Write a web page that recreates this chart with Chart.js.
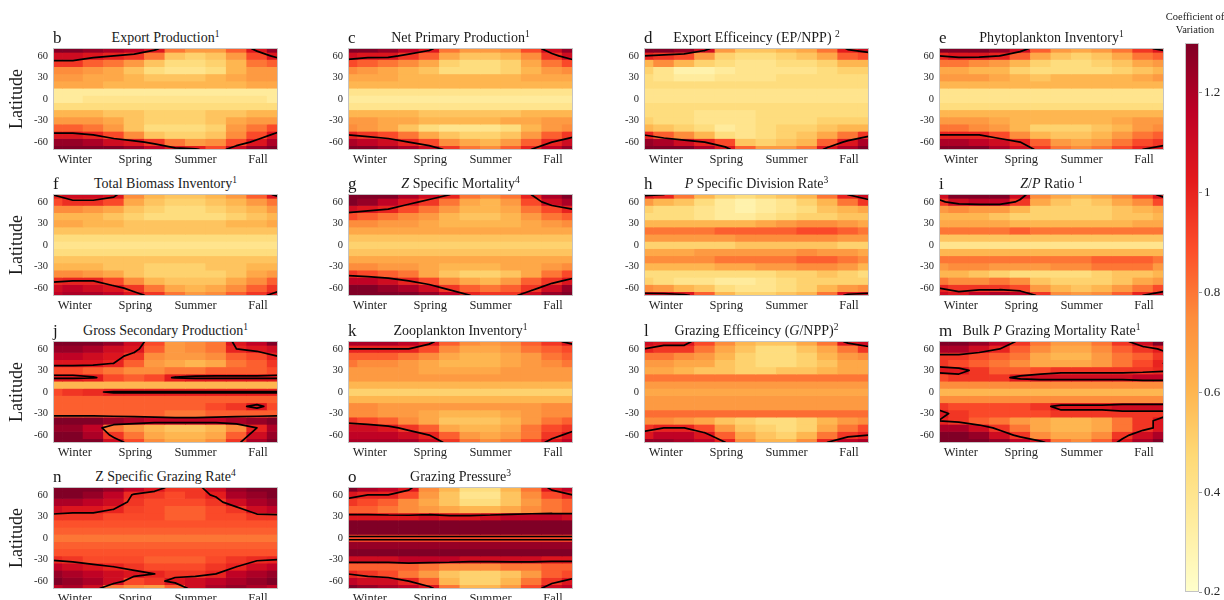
<!DOCTYPE html>
<html>
<head>
<meta charset="utf-8">
<script src="https://cdn.jsdelivr.net/npm/chart.js@4.4.1/dist/chart.umd.min.js"></script>
<style>
  body { margin: 0; background: #fff; }
  #page { position: relative; width: 1224px; height: 600px; overflow: hidden;
          font-family: 'Liberation Serif', 'DejaVu Serif', serif; color: #1a1a1a; }
  .box { position: absolute; }
  .ttl { position: absolute; text-align: center; font-size: 14px; line-height: 14px; white-space: nowrap; }
  .let { position: absolute; font-size: 17px; line-height: 17px; }
  .cbt { position: absolute; left: 1150px; top: 10px; width: 90px; text-align: center;
         font-size: 10.5px; line-height: 13px; white-space: nowrap; }
  sup { font-size: 0.68em; line-height: 0; vertical-align: 0.5em; }
</style>
</head>
<body>
<div id="page"></div>
<script>
// ---- data: coefficient of variation, rows = latitude (70 .. -70), columns = month ----
const latitudes = [70, 60, 50, 40, 30, 20, 10, 0, -10, -20, -30, -40, -50, -60, -70];
const seasonLabels = ['Winter', 'Spring', 'Summer', 'Fall'];
const seasonTicks = [1.6, 4.55, 7.5, 10.55];
const latTicks = [-60, -30, 0, 30, 60];
const cvTicks = [0.2, 0.4, 0.6, 0.8, 1, 1.2];
const cvRange = [0.2, 1.3];
const contourLevel = 1.0;
const colourStops = ['#ffffcc', '#ffeda0', '#fed976', '#feb24c', '#fd8d3c', '#fc4e2a', '#e31a1c', '#bd0026', '#800026'];

const exportProd = [
  [1.3, 1.3, 1.25, 1.2, 1.15, 1.05, 0.8, 0.7, 0.7, 0.85, 1.05, 1.25],
  [1.1, 1.1, 1.05, 1.0, 0.95, 0.8, 0.55, 0.5, 0.55, 0.7, 0.9, 1.05],
  [0.95, 0.95, 0.85, 0.8, 0.7, 0.55, 0.45, 0.45, 0.5, 0.6, 0.8, 0.85],
  [0.75, 0.75, 0.7, 0.65, 0.55, 0.45, 0.4, 0.4, 0.45, 0.6, 0.7, 0.7],
  [0.7, 0.7, 0.65, 0.65, 0.6, 0.55, 0.55, 0.55, 0.6, 0.65, 0.7, 0.7],
  [0.65, 0.65, 0.65, 0.6, 0.6, 0.6, 0.6, 0.6, 0.6, 0.6, 0.65, 0.65],
  [0.35, 0.35, 0.35, 0.35, 0.35, 0.35, 0.35, 0.35, 0.35, 0.35, 0.35, 0.35],
  [0.35, 0.35, 0.4, 0.4, 0.4, 0.4, 0.4, 0.4, 0.4, 0.4, 0.4, 0.35],
  [0.45, 0.45, 0.45, 0.45, 0.45, 0.45, 0.45, 0.45, 0.45, 0.45, 0.45, 0.45],
  [0.6, 0.6, 0.6, 0.55, 0.55, 0.5, 0.5, 0.5, 0.55, 0.55, 0.6, 0.6],
  [0.7, 0.7, 0.7, 0.65, 0.55, 0.5, 0.5, 0.5, 0.55, 0.65, 0.7, 0.7],
  [0.85, 0.85, 0.8, 0.7, 0.55, 0.45, 0.45, 0.45, 0.5, 0.7, 0.8, 0.9],
  [1.05, 1.05, 1.0, 0.9, 0.75, 0.55, 0.5, 0.5, 0.55, 0.75, 0.9, 1.05],
  [1.25, 1.25, 1.2, 1.1, 1.05, 0.95, 0.8, 0.7, 0.75, 0.9, 1.05, 1.2],
  [1.3, 1.3, 1.3, 1.3, 1.25, 1.15, 1.05, 1.02, 0.9, 1.1, 1.25, 1.3]
];
const netPrimary = [
  [1.3, 1.3, 1.25, 1.15, 1.05, 0.8, 0.7, 0.7, 0.75, 0.9, 1.1, 1.25],
  [1.1, 1.05, 1.05, 0.95, 0.85, 0.65, 0.55, 0.55, 0.6, 0.75, 0.95, 1.1],
  [0.9, 0.85, 0.8, 0.75, 0.65, 0.5, 0.45, 0.45, 0.5, 0.65, 0.8, 0.9],
  [0.75, 0.7, 0.65, 0.6, 0.55, 0.45, 0.45, 0.45, 0.5, 0.6, 0.7, 0.75],
  [0.65, 0.65, 0.65, 0.6, 0.6, 0.6, 0.6, 0.6, 0.6, 0.65, 0.65, 0.65],
  [0.6, 0.6, 0.6, 0.6, 0.6, 0.6, 0.6, 0.6, 0.6, 0.6, 0.6, 0.6],
  [0.4, 0.4, 0.4, 0.4, 0.4, 0.4, 0.4, 0.4, 0.4, 0.4, 0.4, 0.4],
  [0.35, 0.35, 0.35, 0.35, 0.35, 0.35, 0.35, 0.35, 0.35, 0.35, 0.35, 0.35],
  [0.4, 0.4, 0.4, 0.4, 0.4, 0.4, 0.4, 0.4, 0.4, 0.4, 0.4, 0.4],
  [0.6, 0.6, 0.6, 0.6, 0.55, 0.55, 0.55, 0.55, 0.55, 0.6, 0.6, 0.6],
  [0.7, 0.7, 0.65, 0.65, 0.6, 0.6, 0.6, 0.6, 0.65, 0.65, 0.7, 0.7],
  [0.75, 0.7, 0.65, 0.55, 0.45, 0.4, 0.4, 0.4, 0.45, 0.6, 0.7, 0.75],
  [1.0, 0.95, 0.9, 0.8, 0.65, 0.55, 0.5, 0.5, 0.55, 0.7, 0.85, 0.95],
  [1.2, 1.15, 1.1, 1.0, 0.9, 0.75, 0.65, 0.6, 0.7, 0.85, 1.0, 1.1],
  [1.3, 1.3, 1.25, 1.2, 1.1, 0.95, 0.8, 0.75, 0.85, 1.0, 1.15, 1.25]
];
const exportEff = [
  [1.3, 1.3, 1.25, 1.1, 0.7, 0.55, 0.55, 0.6, 0.65, 0.8, 1.02, 1.1],
  [1.0, 0.95, 0.9, 0.7, 0.5, 0.45, 0.45, 0.5, 0.55, 0.65, 0.85, 0.9],
  [0.6, 0.75, 0.6, 0.5, 0.45, 0.4, 0.4, 0.45, 0.45, 0.5, 0.6, 0.6],
  [0.5, 0.4, 0.3, 0.3, 0.35, 0.4, 0.4, 0.4, 0.4, 0.45, 0.5, 0.5],
  [0.45, 0.4, 0.35, 0.35, 0.4, 0.4, 0.4, 0.45, 0.45, 0.45, 0.45, 0.45],
  [0.45, 0.45, 0.45, 0.45, 0.45, 0.45, 0.45, 0.45, 0.45, 0.45, 0.45, 0.45],
  [0.4, 0.4, 0.4, 0.4, 0.4, 0.4, 0.4, 0.4, 0.4, 0.4, 0.4, 0.4],
  [0.4, 0.4, 0.4, 0.4, 0.4, 0.4, 0.4, 0.4, 0.4, 0.4, 0.4, 0.4],
  [0.45, 0.45, 0.45, 0.45, 0.45, 0.45, 0.45, 0.45, 0.45, 0.45, 0.45, 0.45],
  [0.45, 0.45, 0.45, 0.4, 0.4, 0.4, 0.45, 0.45, 0.45, 0.45, 0.45, 0.45],
  [0.5, 0.45, 0.45, 0.4, 0.4, 0.4, 0.45, 0.45, 0.45, 0.5, 0.5, 0.5],
  [0.6, 0.55, 0.5, 0.45, 0.35, 0.4, 0.45, 0.5, 0.5, 0.55, 0.6, 0.6],
  [1.0, 0.85, 0.75, 0.6, 0.45, 0.4, 0.45, 0.5, 0.55, 0.65, 0.8, 0.95],
  [1.25, 1.2, 1.1, 1.0, 0.9, 0.55, 0.5, 0.55, 0.6, 0.85, 1.05, 1.2],
  [1.3, 1.3, 1.3, 1.2, 1.05, 0.85, 0.7, 0.7, 0.8, 1.05, 1.2, 1.3]
];
const phytoInv = [
  [1.3, 1.3, 1.3, 1.25, 1.1, 0.85, 0.7, 0.65, 0.7, 0.8, 0.95, 1.05],
  [1.0, 1.05, 1.05, 1.0, 0.85, 0.65, 0.55, 0.5, 0.55, 0.65, 0.8, 0.85],
  [0.8, 0.8, 0.75, 0.7, 0.6, 0.5, 0.45, 0.45, 0.5, 0.55, 0.65, 0.7],
  [0.65, 0.65, 0.6, 0.6, 0.5, 0.45, 0.45, 0.45, 0.45, 0.5, 0.55, 0.6],
  [0.7, 0.7, 0.7, 0.65, 0.6, 0.55, 0.6, 0.6, 0.6, 0.6, 0.65, 0.7],
  [0.6, 0.6, 0.6, 0.6, 0.6, 0.6, 0.6, 0.6, 0.6, 0.6, 0.6, 0.6],
  [0.4, 0.4, 0.4, 0.4, 0.4, 0.4, 0.4, 0.4, 0.4, 0.4, 0.4, 0.4],
  [0.4, 0.4, 0.4, 0.4, 0.4, 0.4, 0.4, 0.4, 0.4, 0.4, 0.4, 0.4],
  [0.45, 0.45, 0.45, 0.45, 0.45, 0.45, 0.45, 0.45, 0.45, 0.45, 0.45, 0.45],
  [0.6, 0.6, 0.6, 0.6, 0.6, 0.6, 0.6, 0.6, 0.6, 0.6, 0.6, 0.6],
  [0.7, 0.7, 0.7, 0.65, 0.6, 0.6, 0.6, 0.6, 0.6, 0.65, 0.7, 0.7],
  [0.8, 0.8, 0.75, 0.7, 0.6, 0.5, 0.5, 0.5, 0.55, 0.6, 0.7, 0.75],
  [1.0, 1.0, 1.0, 0.9, 0.75, 0.6, 0.55, 0.55, 0.6, 0.7, 0.8, 0.85],
  [1.2, 1.2, 1.15, 1.1, 1.0, 0.85, 0.7, 0.65, 0.7, 0.8, 0.9, 0.95],
  [1.3, 1.3, 1.3, 1.2, 1.1, 0.95, 0.8, 0.75, 0.8, 0.9, 1.0, 1.05]
];
const biomassInv = [
  [1.0, 1.1, 1.1, 1.05, 0.75, 0.6, 0.55, 0.55, 0.6, 0.7, 0.85, 1.05],
  [0.9, 0.97, 0.97, 0.9, 0.65, 0.55, 0.5, 0.5, 0.55, 0.6, 0.7, 0.8],
  [0.75, 0.75, 0.7, 0.65, 0.55, 0.5, 0.45, 0.45, 0.5, 0.55, 0.6, 0.7],
  [0.6, 0.6, 0.6, 0.55, 0.5, 0.45, 0.45, 0.45, 0.45, 0.5, 0.55, 0.6],
  [0.65, 0.65, 0.6, 0.6, 0.55, 0.55, 0.55, 0.55, 0.55, 0.6, 0.6, 0.65],
  [0.55, 0.55, 0.55, 0.55, 0.55, 0.55, 0.55, 0.55, 0.55, 0.55, 0.55, 0.55],
  [0.45, 0.45, 0.45, 0.45, 0.45, 0.45, 0.45, 0.45, 0.45, 0.45, 0.45, 0.45],
  [0.4, 0.4, 0.4, 0.4, 0.4, 0.4, 0.4, 0.4, 0.4, 0.4, 0.4, 0.4],
  [0.45, 0.45, 0.45, 0.45, 0.45, 0.45, 0.45, 0.45, 0.45, 0.45, 0.45, 0.45],
  [0.55, 0.55, 0.55, 0.55, 0.55, 0.55, 0.55, 0.55, 0.55, 0.55, 0.55, 0.55],
  [0.6, 0.6, 0.6, 0.55, 0.55, 0.5, 0.5, 0.5, 0.55, 0.55, 0.6, 0.6],
  [0.75, 0.75, 0.7, 0.65, 0.55, 0.5, 0.5, 0.5, 0.5, 0.55, 0.65, 0.7],
  [0.98, 1.0, 1.0, 0.9, 0.75, 0.6, 0.55, 0.55, 0.55, 0.65, 0.75, 0.85],
  [1.1, 1.15, 1.1, 1.05, 0.95, 0.8, 0.65, 0.6, 0.65, 0.75, 0.85, 0.95],
  [1.15, 1.2, 1.2, 1.15, 1.05, 0.95, 0.8, 0.7, 0.75, 0.85, 0.95, 1.05]
];
const zMortality = [
  [1.3, 1.3, 1.3, 1.2, 1.1, 1.0, 0.8, 0.75, 0.8, 1.0, 1.2, 1.3],
  [1.3, 1.25, 1.15, 1.05, 0.95, 0.8, 0.65, 0.6, 0.7, 0.9, 1.1, 1.2],
  [1.1, 1.05, 1.0, 0.9, 0.8, 0.7, 0.6, 0.6, 0.65, 0.8, 0.9, 1.0],
  [0.9, 0.85, 0.8, 0.75, 0.7, 0.6, 0.55, 0.55, 0.6, 0.7, 0.8, 0.85],
  [0.75, 0.75, 0.7, 0.7, 0.65, 0.6, 0.6, 0.6, 0.6, 0.65, 0.7, 0.75],
  [0.65, 0.65, 0.65, 0.65, 0.65, 0.65, 0.65, 0.65, 0.65, 0.65, 0.65, 0.65],
  [0.55, 0.55, 0.55, 0.55, 0.55, 0.55, 0.55, 0.55, 0.55, 0.55, 0.55, 0.55],
  [0.5, 0.5, 0.5, 0.5, 0.5, 0.5, 0.5, 0.5, 0.5, 0.5, 0.5, 0.5],
  [0.55, 0.55, 0.55, 0.55, 0.55, 0.55, 0.55, 0.55, 0.55, 0.55, 0.55, 0.55],
  [0.65, 0.65, 0.65, 0.65, 0.65, 0.65, 0.65, 0.65, 0.65, 0.65, 0.65, 0.65],
  [0.75, 0.75, 0.7, 0.7, 0.65, 0.6, 0.6, 0.6, 0.65, 0.65, 0.7, 0.75],
  [0.95, 0.9, 0.85, 0.8, 0.65, 0.55, 0.5, 0.5, 0.55, 0.65, 0.8, 0.9],
  [1.15, 1.15, 1.1, 1.0, 0.9, 0.75, 0.65, 0.6, 0.7, 0.85, 0.95, 1.05],
  [1.3, 1.3, 1.25, 1.2, 1.1, 0.95, 0.85, 0.8, 0.85, 0.95, 1.1, 1.25],
  [1.3, 1.3, 1.3, 1.3, 1.25, 1.15, 1.0, 0.95, 0.95, 1.1, 1.25, 1.3]
];
const pDivision = [
  [1.05, 1.0, 0.8, 0.6, 0.5, 0.45, 0.5, 0.55, 0.6, 0.8, 1.0, 1.1],
  [0.7, 0.6, 0.55, 0.45, 0.35, 0.3, 0.35, 0.4, 0.5, 0.6, 0.8, 0.95],
  [0.5, 0.45, 0.45, 0.4, 0.35, 0.3, 0.35, 0.4, 0.45, 0.55, 0.6, 0.65],
  [0.45, 0.45, 0.45, 0.4, 0.35, 0.35, 0.4, 0.45, 0.5, 0.5, 0.55, 0.55],
  [0.6, 0.6, 0.6, 0.6, 0.6, 0.6, 0.65, 0.7, 0.75, 0.75, 0.7, 0.65],
  [0.8, 0.8, 0.8, 0.8, 0.85, 0.85, 0.85, 0.85, 0.9, 0.9, 0.85, 0.8],
  [0.7, 0.7, 0.7, 0.7, 0.7, 0.75, 0.75, 0.75, 0.75, 0.75, 0.7, 0.7],
  [0.5, 0.5, 0.5, 0.5, 0.5, 0.55, 0.55, 0.55, 0.55, 0.55, 0.5, 0.5],
  [0.65, 0.65, 0.65, 0.7, 0.7, 0.7, 0.7, 0.7, 0.75, 0.7, 0.7, 0.65],
  [0.75, 0.75, 0.75, 0.75, 0.8, 0.8, 0.8, 0.8, 0.85, 0.85, 0.8, 0.75],
  [0.6, 0.6, 0.6, 0.6, 0.65, 0.65, 0.7, 0.7, 0.75, 0.75, 0.7, 0.6],
  [0.45, 0.45, 0.45, 0.45, 0.45, 0.45, 0.45, 0.5, 0.5, 0.55, 0.5, 0.45],
  [0.5, 0.45, 0.4, 0.4, 0.35, 0.35, 0.4, 0.45, 0.5, 0.5, 0.5, 0.5],
  [0.75, 0.7, 0.6, 0.55, 0.45, 0.4, 0.4, 0.45, 0.5, 0.6, 0.7, 0.75],
  [1.1, 1.1, 1.05, 0.85, 0.6, 0.5, 0.5, 0.55, 0.6, 0.8, 1.05, 1.1]
];
const zpRatio = [
  [1.1, 1.3, 1.3, 1.3, 1.1, 0.75, 0.65, 0.6, 0.65, 0.75, 0.9, 1.05],
  [0.95, 1.1, 1.15, 1.15, 0.95, 0.65, 0.55, 0.5, 0.55, 0.65, 0.75, 0.9],
  [0.7, 0.75, 0.7, 0.7, 0.6, 0.5, 0.5, 0.5, 0.5, 0.55, 0.6, 0.65],
  [0.6, 0.6, 0.6, 0.55, 0.5, 0.5, 0.5, 0.5, 0.5, 0.55, 0.55, 0.6],
  [0.65, 0.65, 0.65, 0.65, 0.6, 0.6, 0.6, 0.6, 0.6, 0.6, 0.65, 0.65],
  [0.8, 0.8, 0.8, 0.8, 0.85, 0.8, 0.8, 0.8, 0.8, 0.8, 0.8, 0.8],
  [0.55, 0.55, 0.55, 0.55, 0.55, 0.55, 0.55, 0.55, 0.55, 0.55, 0.55, 0.55],
  [0.4, 0.4, 0.4, 0.4, 0.4, 0.4, 0.4, 0.4, 0.4, 0.4, 0.4, 0.4],
  [0.6, 0.6, 0.6, 0.6, 0.6, 0.6, 0.6, 0.6, 0.6, 0.6, 0.6, 0.6],
  [0.8, 0.8, 0.8, 0.8, 0.8, 0.8, 0.8, 0.8, 0.85, 0.85, 0.85, 0.8],
  [0.7, 0.75, 0.75, 0.7, 0.7, 0.7, 0.75, 0.75, 0.8, 0.8, 0.8, 0.7],
  [0.6, 0.6, 0.55, 0.5, 0.45, 0.45, 0.45, 0.45, 0.5, 0.55, 0.55, 0.6],
  [0.8, 0.75, 0.75, 0.8, 0.75, 0.55, 0.5, 0.5, 0.5, 0.55, 0.65, 0.7],
  [1.0, 0.95, 0.95, 0.95, 0.9, 0.7, 0.6, 0.55, 0.6, 0.7, 0.8, 0.9],
  [1.1, 1.05, 1.15, 1.2, 1.15, 0.95, 0.75, 0.7, 0.75, 0.85, 1.0, 1.1]
];
const grossSecondary = [
  [1.3, 1.3, 1.3, 1.25, 1.1, 0.9, 0.7, 0.75, 0.8, 1.05, 1.15, 1.3],
  [1.25, 1.25, 1.2, 1.1, 1.05, 0.85, 0.7, 0.75, 0.8, 1.0, 1.05, 1.1],
  [1.15, 1.15, 1.1, 1.05, 0.95, 0.75, 0.7, 0.7, 0.75, 0.85, 0.9, 1.0],
  [1.05, 1.05, 1.05, 1.0, 0.85, 0.7, 0.65, 0.6, 0.65, 0.8, 0.85, 0.95],
  [0.9, 0.9, 0.85, 0.8, 0.75, 0.75, 0.8, 0.8, 0.85, 0.85, 0.85, 0.9],
  [1.05, 1.05, 1.02, 0.9, 0.85, 0.9, 1.02, 1.05, 1.05, 1.05, 1.05, 1.05],
  [0.6, 0.6, 0.6, 0.6, 0.6, 0.6, 0.6, 0.6, 0.6, 0.6, 0.6, 0.6],
  [0.9, 0.95, 0.98, 1.02, 1.02, 1.02, 1.02, 1.02, 1.02, 1.02, 1.02, 1.02],
  [0.85, 0.85, 0.85, 0.85, 0.85, 0.85, 0.85, 0.85, 0.85, 0.85, 0.85, 0.85],
  [0.85, 0.85, 0.85, 0.85, 0.85, 0.85, 0.85, 0.85, 0.9, 0.95, 1.05, 0.9],
  [0.85, 0.85, 0.85, 0.85, 0.85, 0.85, 0.8, 0.8, 0.85, 0.85, 0.85, 0.85],
  [1.3, 1.3, 1.3, 1.25, 1.2, 1.15, 1.15, 1.15, 1.15, 1.2, 1.25, 1.3],
  [1.25, 1.25, 1.15, 0.8, 0.7, 0.6, 0.55, 0.55, 0.6, 0.75, 1.0, 1.2],
  [1.3, 1.3, 1.2, 0.95, 0.8, 0.65, 0.6, 0.6, 0.65, 0.85, 1.1, 1.25],
  [1.3, 1.3, 1.3, 1.1, 0.9, 0.75, 0.65, 0.65, 0.75, 0.95, 1.2, 1.3]
];
const zooInv = [
  [1.2, 1.2, 1.2, 1.15, 1.05, 0.85, 0.75, 0.7, 0.75, 0.85, 0.95, 1.05],
  [1.0, 1.0, 1.0, 1.0, 0.9, 0.75, 0.65, 0.65, 0.7, 0.8, 0.85, 0.9],
  [0.85, 0.85, 0.85, 0.8, 0.75, 0.65, 0.6, 0.6, 0.65, 0.7, 0.8, 0.85],
  [0.8, 0.75, 0.75, 0.7, 0.65, 0.6, 0.6, 0.6, 0.65, 0.7, 0.75, 0.8],
  [0.7, 0.7, 0.7, 0.7, 0.65, 0.65, 0.65, 0.65, 0.7, 0.7, 0.7, 0.7],
  [0.7, 0.7, 0.7, 0.7, 0.7, 0.7, 0.7, 0.7, 0.7, 0.7, 0.7, 0.7],
  [0.6, 0.6, 0.6, 0.6, 0.6, 0.6, 0.6, 0.6, 0.6, 0.6, 0.6, 0.6],
  [0.5, 0.5, 0.5, 0.5, 0.5, 0.5, 0.5, 0.5, 0.5, 0.5, 0.5, 0.5],
  [0.6, 0.6, 0.6, 0.6, 0.6, 0.6, 0.6, 0.6, 0.6, 0.6, 0.6, 0.6],
  [0.75, 0.75, 0.7, 0.7, 0.7, 0.7, 0.7, 0.7, 0.7, 0.7, 0.75, 0.75],
  [0.75, 0.75, 0.7, 0.7, 0.65, 0.6, 0.6, 0.6, 0.65, 0.7, 0.75, 0.75],
  [0.95, 0.9, 0.85, 0.75, 0.65, 0.55, 0.55, 0.55, 0.6, 0.7, 0.8, 0.85],
  [1.1, 1.1, 1.05, 0.95, 0.85, 0.65, 0.6, 0.6, 0.65, 0.8, 0.9, 0.95],
  [1.15, 1.15, 1.15, 1.1, 1.0, 0.85, 0.7, 0.65, 0.7, 0.8, 0.95, 1.05],
  [1.2, 1.2, 1.2, 1.2, 1.1, 0.95, 0.8, 0.75, 0.8, 0.9, 1.05, 1.15]
];
const grazingEff = [
  [1.1, 1.05, 1.05, 0.9, 0.75, 0.6, 0.55, 0.55, 0.65, 0.8, 1.05, 1.1],
  [1.0, 0.95, 0.95, 0.8, 0.65, 0.55, 0.45, 0.45, 0.55, 0.65, 0.8, 0.95],
  [0.8, 0.8, 0.75, 0.7, 0.6, 0.5, 0.45, 0.45, 0.5, 0.6, 0.7, 0.75],
  [0.7, 0.7, 0.65, 0.65, 0.55, 0.5, 0.45, 0.45, 0.5, 0.55, 0.65, 0.65],
  [0.65, 0.65, 0.6, 0.55, 0.55, 0.5, 0.5, 0.55, 0.55, 0.6, 0.65, 0.65],
  [0.8, 0.8, 0.8, 0.8, 0.8, 0.8, 0.8, 0.8, 0.8, 0.8, 0.8, 0.8],
  [0.7, 0.7, 0.7, 0.7, 0.7, 0.7, 0.7, 0.7, 0.7, 0.7, 0.7, 0.7],
  [0.65, 0.65, 0.65, 0.65, 0.65, 0.65, 0.65, 0.65, 0.65, 0.65, 0.65, 0.65],
  [0.7, 0.7, 0.7, 0.7, 0.7, 0.7, 0.7, 0.7, 0.7, 0.7, 0.7, 0.7],
  [0.7, 0.7, 0.7, 0.7, 0.7, 0.7, 0.7, 0.7, 0.7, 0.7, 0.7, 0.7],
  [0.82, 0.82, 0.82, 0.82, 0.82, 0.82, 0.82, 0.82, 0.82, 0.82, 0.82, 0.82],
  [0.75, 0.75, 0.7, 0.65, 0.55, 0.5, 0.45, 0.45, 0.5, 0.6, 0.7, 0.75],
  [0.95, 1.0, 1.0, 0.9, 0.7, 0.55, 0.5, 0.45, 0.5, 0.65, 0.8, 0.9],
  [1.05, 1.15, 1.15, 1.05, 0.85, 0.65, 0.55, 0.5, 0.6, 0.8, 0.95, 1.0],
  [1.25, 1.25, 1.2, 1.15, 1.0, 0.75, 0.6, 0.6, 0.75, 1.0, 1.15, 1.2]
];
const bulkGrazing = [
  [1.3, 1.3, 1.25, 1.15, 0.95, 0.8, 0.7, 0.7, 0.8, 0.95, 1.1, 1.3],
  [1.2, 1.2, 1.1, 1.0, 0.85, 0.75, 0.65, 0.65, 0.75, 0.85, 0.95, 1.02],
  [0.95, 0.95, 0.9, 0.85, 0.8, 0.65, 0.6, 0.6, 0.7, 0.8, 0.85, 0.95],
  [0.95, 0.9, 0.85, 0.8, 0.75, 0.65, 0.65, 0.65, 0.7, 0.8, 0.9, 1.0],
  [1.05, 1.05, 0.95, 0.85, 0.85, 0.9, 0.95, 0.95, 0.95, 0.95, 0.95, 0.98],
  [0.9, 0.95, 0.95, 0.95, 1.05, 1.1, 1.1, 1.1, 1.1, 1.1, 1.15, 1.15],
  [0.75, 0.75, 0.75, 0.75, 0.75, 0.75, 0.75, 0.75, 0.75, 0.75, 0.75, 0.75],
  [0.6, 0.6, 0.6, 0.6, 0.6, 0.6, 0.6, 0.6, 0.6, 0.6, 0.6, 0.6],
  [0.75, 0.75, 0.75, 0.75, 0.75, 0.75, 0.75, 0.75, 0.75, 0.75, 0.75, 0.75],
  [0.95, 0.9, 0.9, 0.9, 0.9, 0.95, 1.05, 1.05, 1.05, 1.1, 1.1, 1.1],
  [1.05, 0.95, 0.9, 0.9, 0.9, 0.9, 0.95, 0.95, 0.95, 0.95, 0.95, 0.95],
  [1.0, 0.95, 0.85, 0.8, 0.7, 0.65, 0.6, 0.6, 0.65, 0.8, 0.95, 1.05],
  [1.2, 1.2, 1.1, 0.95, 0.8, 0.65, 0.6, 0.6, 0.65, 0.8, 0.95, 1.05],
  [1.3, 1.3, 1.25, 1.1, 0.95, 0.75, 0.65, 0.65, 0.75, 0.95, 1.1, 1.2],
  [1.3, 1.3, 1.3, 1.25, 1.15, 1.05, 0.8, 0.75, 0.85, 1.05, 1.2, 1.3]
];
const zGrazingRate = [
  [1.3, 1.3, 1.3, 1.25, 1.15, 1.05, 0.95, 0.95, 1.1, 1.25, 1.3, 1.3],
  [1.3, 1.3, 1.25, 1.15, 0.98, 0.95, 0.9, 0.95, 1.02, 1.2, 1.25, 1.3],
  [1.2, 1.2, 1.15, 1.1, 0.95, 0.9, 0.9, 0.9, 0.95, 1.1, 1.2, 1.25],
  [1.1, 1.05, 1.05, 1.0, 0.92, 0.9, 0.85, 0.85, 0.9, 0.95, 1.1, 1.15],
  [0.95, 0.95, 0.95, 0.9, 0.9, 0.9, 0.85, 0.85, 0.9, 0.9, 0.95, 0.95],
  [0.88, 0.88, 0.88, 0.88, 0.88, 0.88, 0.88, 0.88, 0.88, 0.88, 0.88, 0.88],
  [0.85, 0.85, 0.85, 0.85, 0.85, 0.85, 0.85, 0.85, 0.85, 0.85, 0.85, 0.85],
  [0.8, 0.8, 0.8, 0.8, 0.8, 0.8, 0.8, 0.8, 0.8, 0.8, 0.8, 0.8],
  [0.85, 0.85, 0.85, 0.85, 0.85, 0.85, 0.85, 0.85, 0.85, 0.85, 0.85, 0.85],
  [0.88, 0.88, 0.88, 0.88, 0.88, 0.88, 0.88, 0.88, 0.88, 0.88, 0.88, 0.88],
  [0.98, 0.95, 0.9, 0.9, 0.9, 0.85, 0.85, 0.85, 0.9, 0.95, 0.98, 1.0],
  [1.15, 1.1, 1.05, 1.0, 0.95, 0.9, 0.9, 0.9, 0.95, 1.0, 1.1, 1.15],
  [1.25, 1.2, 1.15, 1.1, 1.05, 1.0, 0.95, 0.95, 1.0, 1.15, 1.2, 1.25],
  [1.3, 1.25, 1.2, 1.1, 0.9, 0.95, 1.05, 1.1, 1.15, 1.2, 1.25, 1.3],
  [1.15, 1.2, 1.1, 0.8, 0.75, 0.7, 0.85, 1.1, 1.2, 1.25, 1.2, 1.15]
];
const grazingPressure = [
  [1.3, 1.2, 1.15, 1.05, 0.75, 0.6, 0.45, 0.45, 0.6, 0.8, 1.05, 1.15],
  [1.05, 1.0, 1.0, 0.9, 0.7, 0.55, 0.4, 0.4, 0.55, 0.75, 0.9, 1.0],
  [0.95, 0.9, 0.85, 0.75, 0.65, 0.55, 0.45, 0.45, 0.55, 0.7, 0.8, 0.85],
  [0.85, 0.85, 0.8, 0.75, 0.7, 0.65, 0.6, 0.6, 0.65, 0.75, 0.8, 0.85],
  [1.05, 1.05, 1.05, 1.05, 1.1, 1.05, 1.05, 1.1, 1.15, 1.15, 1.15, 1.1],
  [1.3, 1.3, 1.3, 1.3, 1.3, 1.3, 1.3, 1.3, 1.3, 1.3, 1.3, 1.3],
  [1.3, 1.3, 1.3, 1.3, 1.3, 1.3, 1.3, 1.3, 1.3, 1.3, 1.3, 1.3],
  [0.92, 0.92, 0.92, 0.92, 0.92, 0.92, 0.92, 0.92, 0.92, 0.92, 0.92, 0.92],
  [1.25, 1.25, 1.25, 1.25, 1.25, 1.25, 1.25, 1.25, 1.25, 1.25, 1.25, 1.25],
  [1.3, 1.3, 1.3, 1.3, 1.3, 1.3, 1.3, 1.3, 1.3, 1.3, 1.3, 1.3],
  [1.1, 1.1, 1.1, 1.15, 1.15, 1.15, 1.1, 1.1, 1.1, 1.1, 1.05, 1.05],
  [0.85, 0.85, 0.85, 0.85, 0.8, 0.75, 0.75, 0.75, 0.8, 0.8, 0.85, 0.85],
  [1.0, 0.95, 0.9, 0.8, 0.7, 0.55, 0.5, 0.5, 0.55, 0.7, 0.85, 0.9],
  [1.15, 1.1, 1.1, 1.0, 0.85, 0.6, 0.5, 0.5, 0.6, 0.8, 0.95, 1.05],
  [1.3, 1.25, 1.2, 1.15, 1.05, 0.8, 0.6, 0.6, 0.7, 0.9, 1.1, 1.15]
];

const panels = [
  { letter: 'b', title: 'Export Production<sup>1</sup>', grid: exportProd },
  { letter: 'c', title: 'Net Primary Production<sup>1</sup>', grid: netPrimary },
  { letter: 'd', title: 'Export Efficeincy (EP/NPP) <sup>2</sup>', grid: exportEff },
  { letter: 'e', title: 'Phytoplankton Inventory<sup>1</sup>', grid: phytoInv },
  { letter: 'f', title: 'Total Biomass Inventory<sup>1</sup>', grid: biomassInv },
  { letter: 'g', title: '<i>Z</i> Specific Mortality<sup>4</sup>', grid: zMortality },
  { letter: 'h', title: '<i>P</i> Specific Division Rate<sup>3</sup>', grid: pDivision },
  { letter: 'i', title: '<i>Z</i>/<i>P</i> Ratio <sup>1</sup>', grid: zpRatio },
  { letter: 'j', title: 'Gross Secondary Production<sup>1</sup>', grid: grossSecondary },
  { letter: 'k', title: 'Zooplankton Inventory<sup>1</sup>', grid: zooInv },
  { letter: 'l', title: 'Grazing Efficeincy (<i>G</i>/NPP)<sup>2</sup>', grid: grazingEff },
  { letter: 'm', title: 'Bulk <i>P</i> Grazing Mortality Rate<sup>1</sup>', grid: bulkGrazing },
  { letter: 'n', title: 'Z Specific Grazing Rate<sup>4</sup>', grid: zGrazingRate },
  { letter: 'o', title: 'Grazing Pressure<sup>3</sup>', grid: grazingPressure }
];

// ---- layout ----
const plotLeft = [53, 348, 644, 939];
const plotTop = [48, 194, 341, 487];
const plotW = 225, plotH = 102;

Chart.defaults.font.family = "'Liberation Serif', 'DejaVu Serif', serif";
Chart.defaults.color = '#262626';

const page = document.getElementById('page');

function hexRgb(h) {
  return [1, 3, 5].map(i => parseInt(h.substr(i, 2), 16));
}

function cvColour(v) {
  const n = colourStops.length - 1;
  let t = (v - cvRange[0]) / (cvRange[1] - cvRange[0]);
  t = Math.max(0, Math.min(1, t)) * n;
  const i = Math.min(n - 1, Math.floor(t));
  const f = t - i;
  const a = hexRgb(colourStops[i]), b = hexRgb(colourStops[i + 1]);
  const c = a.map((x, k) => Math.round(x + (b[k] - x) * f));
  return 'rgb(' + c.join(',') + ')';
}

// marching squares over the cell centres, returns line segments in data units
function contourSegments(grid, level) {
  const segs = [];
  for (let r = 0; r < grid.length - 1; r++) {
    for (let c = 0; c < grid[0].length - 1; c++) {
      const corners = [[r, c], [r, c + 1], [r + 1, c + 1], [r + 1, c]];
      const pts = [];
      for (let k = 0; k < 4; k++) {
        const [r1, c1] = corners[k], [r2, c2] = corners[(k + 1) % 4];
        const v1 = grid[r1][c1] - level, v2 = grid[r2][c2] - level;
        if ((v1 >= 0) !== (v2 >= 0)) {
          const t = v1 / (v1 - v2);
          pts.push({
            x: c1 + 0.5 + t * (c2 - c1),
            lat: latitudes[r1] + t * (latitudes[r2] - latitudes[r1])
          });
        }
      }
      if (pts.length === 2) {
        segs.push(pts);
      } else if (pts.length === 4) {
        const centre = (grid[r][c] + grid[r][c + 1] + grid[r + 1][c] + grid[r + 1][c + 1]) / 4 - level;
        if ((centre >= 0) === (grid[r][c] - level >= 0)) {
          segs.push([pts[0], pts[1]], [pts[2], pts[3]]);
        } else {
          segs.push([pts[3], pts[0]], [pts[1], pts[2]]);
        }
      }
    }
  }
  return segs;
}

const framePlugin = {
  id: 'frame',
  afterDraw(chart) {
    const { ctx, chartArea: a } = chart;
    ctx.save();
    ctx.strokeStyle = '#c4c4c4';
    ctx.lineWidth = 1;
    ctx.strokeRect(Math.round(a.left) + 0.5, Math.round(a.top) + 0.5,
      Math.round(a.right - a.left) - 1, Math.round(a.bottom - a.top) - 1);
    ctx.restore();
  }
};

function noPad(s) {
  s.paddingTop = 0; s.paddingBottom = 0; s.paddingLeft = 0; s.paddingRight = 0;
}

function makePanel(p, idx) {
  const col = idx % 4, row = Math.floor(idx / 4);
  const L = plotLeft[col], T = plotTop[row];
  const axisW = col === 0 ? L : 40;

  const box = document.createElement('div');
  box.className = 'box';
  box.style.left = (L - axisW) + 'px';
  box.style.top = (T - 2) + 'px';
  box.style.width = (axisW + plotW + 4) + 'px';
  box.style.height = (plotH + 2 + 24) + 'px';
  const cv = document.createElement('canvas');
  box.appendChild(cv);
  page.appendChild(box);

  const ttl = document.createElement('div');
  ttl.className = 'ttl';
  ttl.style.left = L + 'px';
  ttl.style.width = plotW + 'px';
  ttl.style.top = (T - 17) + 'px';
  ttl.innerHTML = p.title;
  page.appendChild(ttl);

  const let_ = document.createElement('div');
  let_.className = 'let';
  let_.style.left = L + 'px';
  let_.style.top = (T - 19) + 'px';
  let_.textContent = p.letter;
  page.appendChild(let_);

  const contour = {
    id: 'contour',
    afterDatasetsDraw(chart) {
      const { ctx, chartArea: a, scales: { x, y } } = chart;
      ctx.save();
      ctx.beginPath();
      ctx.rect(a.left, a.top, a.right - a.left, a.bottom - a.top);
      ctx.clip();
      ctx.beginPath();
      contourSegments(p.grid, contourLevel).forEach(([s, e]) => {
        ctx.moveTo(x.getPixelForValue(s.x), y.getPixelForValue(s.lat));
        ctx.lineTo(x.getPixelForValue(e.x), y.getPixelForValue(e.lat));
      });
      ctx.lineWidth = 1.7;
      ctx.lineCap = 'round';
      ctx.lineJoin = 'round';
      ctx.strokeStyle = '#000';
      ctx.stroke();
      ctx.restore();
    }
  };

  new Chart(cv, {
    type: 'bar',
    data: {
      datasets: latitudes.map((lat, r) => ({
        data: p.grid[r].map((v, j) => ({ x: j + 0.5, y: [lat - 5, lat + 5] })),
        backgroundColor: p.grid[r].map(cvColour),
        borderWidth: 0,
        clip: 0,
        grouped: false,
        barPercentage: 1,
        categoryPercentage: 1
      }))
    },
    options: {
      animation: false,
      responsive: true,
      maintainAspectRatio: false,
      layout: { padding: { top: 2, right: 4, left: 0, bottom: 0 } },
      plugins: { legend: { display: false }, tooltip: { enabled: false } },
      scales: {
        x: {
          type: 'linear', min: 0.53, max: 11.53, offset: false,
          grid: { display: false, drawTicks: false }, border: { display: false },
          afterBuildTicks: s => { s.ticks = seasonTicks.map(v => ({ value: v })); },
          afterFit: s => { s.height = 24; noPad(s); },
          ticks: {
            autoSkip: false, maxRotation: 0, padding: 2,
            font: { size: 12.5 },
            callback: (v, i) => seasonLabels[i]
          }
        },
        y: {
          type: 'linear', min: -71, max: 71,
          grid: { display: false, drawTicks: false }, border: { display: false },
          afterBuildTicks: s => { s.ticks = latTicks.map(v => ({ value: v })); },
          afterFit: s => { s.width = axisW; noPad(s); },
          ticks: { padding: 5, font: { size: 10.5 } },
          title: {
            display: col === 0, text: 'Latitude', color: '#1a1a1a',
            font: { size: 18 }, padding: { top: 6, bottom: 0 }
          }
        }
      }
    },
    plugins: [contour, framePlugin]
  });
}

panels.forEach(makePanel);

// ---- colour bar ----
const cbt = document.createElement('div');
cbt.className = 'cbt';
cbt.innerHTML = 'Coefficient of<br>Variation';
page.appendChild(cbt);

const cbBox = document.createElement('div');
cbBox.className = 'box';
cbBox.style.left = '1175px';
cbBox.style.top = '34px';
cbBox.style.width = '49px';
cbBox.style.height = '566px';
const cbCanvas = document.createElement('canvas');
cbBox.appendChild(cbCanvas);
page.appendChild(cbBox);

new Chart(cbCanvas, {
  type: 'bar',
  data: {
    labels: [''],
    datasets: [{
      data: [cvRange],
      borderWidth: 0,
      clip: 0,
      barPercentage: 1,
      categoryPercentage: 1,
      backgroundColor: c => {
        const ch = c.chart, ys = ch.scales.y;
        const y0 = ys ? ys.getPixelForValue(cvRange[0]) : NaN;
        const y1 = ys ? ys.getPixelForValue(cvRange[1]) : NaN;
        if (!isFinite(y0) || !isFinite(y1) || y0 === y1) return colourStops[4];
        const g = ch.ctx.createLinearGradient(0, y0, 0, y1);
        colourStops.forEach((s, i) => g.addColorStop(i / (colourStops.length - 1), s));
        return g;
      }
    }]
  },
  options: {
    animation: false,
    responsive: true,
    maintainAspectRatio: false,
    layout: { padding: { top: 9, bottom: 8, left: 10, right: 0 } },
    plugins: { legend: { display: false }, tooltip: { enabled: false } },
    scales: {
      x: { display: false },
      y: {
        position: 'right', min: cvRange[0], max: cvRange[1],
        border: { display: false },
        grid: { drawOnChartArea: false, tickLength: 3, color: '#9a9a9a' },
        afterBuildTicks: s => { s.ticks = cvTicks.map(v => ({ value: v })); },
        afterFit: s => { s.width = 25; noPad(s); },
        ticks: { padding: 2, font: { size: 13 }, callback: v => String(v) }
      }
    }
  },
  plugins: [framePlugin]
});
</script>
</body>
</html>
